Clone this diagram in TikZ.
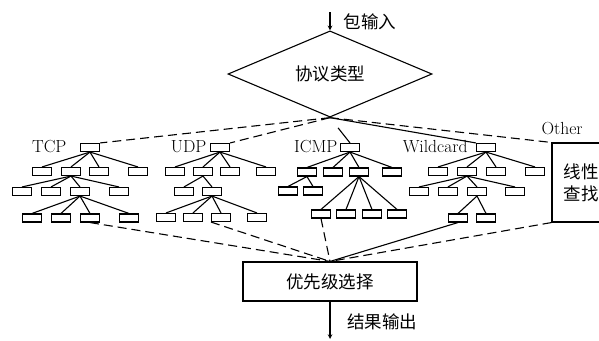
\documentclass[tikz,border=0pt]{standalone}
\usepackage{fontspec}
\newfontfamily\cjk{Noto Sans CJK SC}
\usetikzlibrary{shapes.geometric}

\tikzset{
  kasten/.style={draw, rectangle, inner sep=0pt, minimum width=19pt, minimum height=8pt},
  marke/.style={anchor=east, inner sep=0pt},
  gestrichelt/.style={dash pattern=on 9pt off 5pt},
  zh/.style={font=\cjk\fontsize{17.5}{22}\selectfont}
}

\begin{document}
\begin{tikzpicture}[>=stealth, x=1pt, y=-1pt, line width=1.1pt, font=\fontsize{17.5}{20}\selectfont]

\useasboundingbox (0,0) rectangle (599,340);
\clip (0,0) rectangle (599,340);

% Eingang
\coordinate (ein) at (330,12);
\node[draw, diamond, minimum width=204pt, minimum height=58pt, inner sep=0pt, zh] (typ) at (330,74) {协议类型};
\draw[->] (ein) -- (typ.north);
\node[zh] (lein) at (370,22) {包输入};

% TCP
\node[marke] (ltcp) at (67,147) {TCP};
\node[kasten] (t0) at (90,147.5) {};
\foreach \x [count=\i] in {42,71,99,138} {
  \node[kasten] (t1\i) at (\x,171.5) {};
  \draw (t0.south) -- (t1\i.north);
}
\foreach \x [count=\i] in {22,51,80,119} {
  \node[kasten] (t2\i) at (\x,191.5) {};
  \draw (t12.south) -- (t2\i.north);
}
\foreach \x [count=\i] in {32,61,90,129} {
  \node[kasten] (t3\i) at (\x,218) {};
  \draw (t23.south) -- (t3\i.north);
}

% UDP
\node[marke] (ludp) at (207,147) {UDP};
\node[kasten] (u0) at (220,147.5) {};
\foreach \x [count=\i] in {175,203,230,266} {
  \node[kasten] (u1\i) at (\x,171.5) {};
  \draw (u0.south) -- (u1\i.north);
}
\foreach \x [count=\i] in {184,212} {
  \node[kasten] (u2\i) at (\x,191.5) {};
  \draw (u12.south) -- (u2\i.north);
}
\foreach \x [count=\i] in {166,193,221,257} {
  \node[kasten] (u3\i) at (\x,217.5) {};
  \draw (u22.south) -- (u3\i.north);
}

% ICMP
\node[marke] (licmp) at (338,147) {ICMP};
\node[kasten] (i0) at (350,147.5) {};
\foreach \x [count=\i] in {307,333,359,392} {
  \node[kasten] (i1\i) at (\x,172) {};
  \draw (i0.south) -- (i1\i.north);
}
\foreach \x [count=\i] in {288,313} {
  \node[kasten] (i2\i) at (\x,191) {};
  \draw (i11.south) -- (i2\i.north);
}
\foreach \x [count=\i] in {321,346,372,397} {
  \node[kasten] (i3\i) at (\x,214) {};
  \draw (i13.south) -- (i3\i.north);
}

% Wildcard
\node[marke] (lwild) at (468,147) {Wildcard};
\node[kasten] (w0) at (486,147.5) {};
\foreach \x [count=\i] in {438,467,496,535} {
  \node[kasten] (w1\i) at (\x,171.5) {};
  \draw (w0.south) -- (w1\i.north);
}
\foreach \x [count=\i] in {419,448,477,515} {
  \node[kasten] (w2\i) at (\x,191.5) {};
  \draw (w12.south) -- (w2\i.north);
}
\foreach \x [count=\i] in {458,486} {
  \node[kasten] (w3\i) at (\x,218) {};
  \draw (w23.south) -- (w3\i.north);
}

% Other
\node[anchor=west, inner sep=0pt] (lother) at (541,128.5) {Other};
\node[draw, minimum width=58pt, minimum height=79pt, inner sep=0pt, align=center, zh] (andere) at (581,182.5) {线性\\查找};

% Verzweigung
\draw[gestrichelt] (typ.south) -- (t0.north east);
\draw[gestrichelt] (typ.south) -- (u0.north east);
\draw[shorten <=13pt] (typ.south) -- (i0.north);
\draw (typ.south) -- (w0.north west);
\draw[gestrichelt] (typ.south) -- (andere.north west);

% Auswahl
\node[draw, minimum width=174pt, minimum height=39pt, zh] (sel) at (330,281.5) {优先级选择};
\draw[gestrichelt] (t33.south) -- (sel.north);
\draw[gestrichelt] (u33.south west) -- (sel.north);
\draw[gestrichelt] (i31.south) -- (sel.north);
\draw (w31.south) -- (sel.north);
\draw[gestrichelt] (andere.south west) -- (sel.north);

% Ausgang
\coordinate (aus) at (330,339);
\draw[->] (sel.south) -- (aus);
\node[zh] (laus) at (382,322) {结果输出};

\end{tikzpicture}
\end{document}
